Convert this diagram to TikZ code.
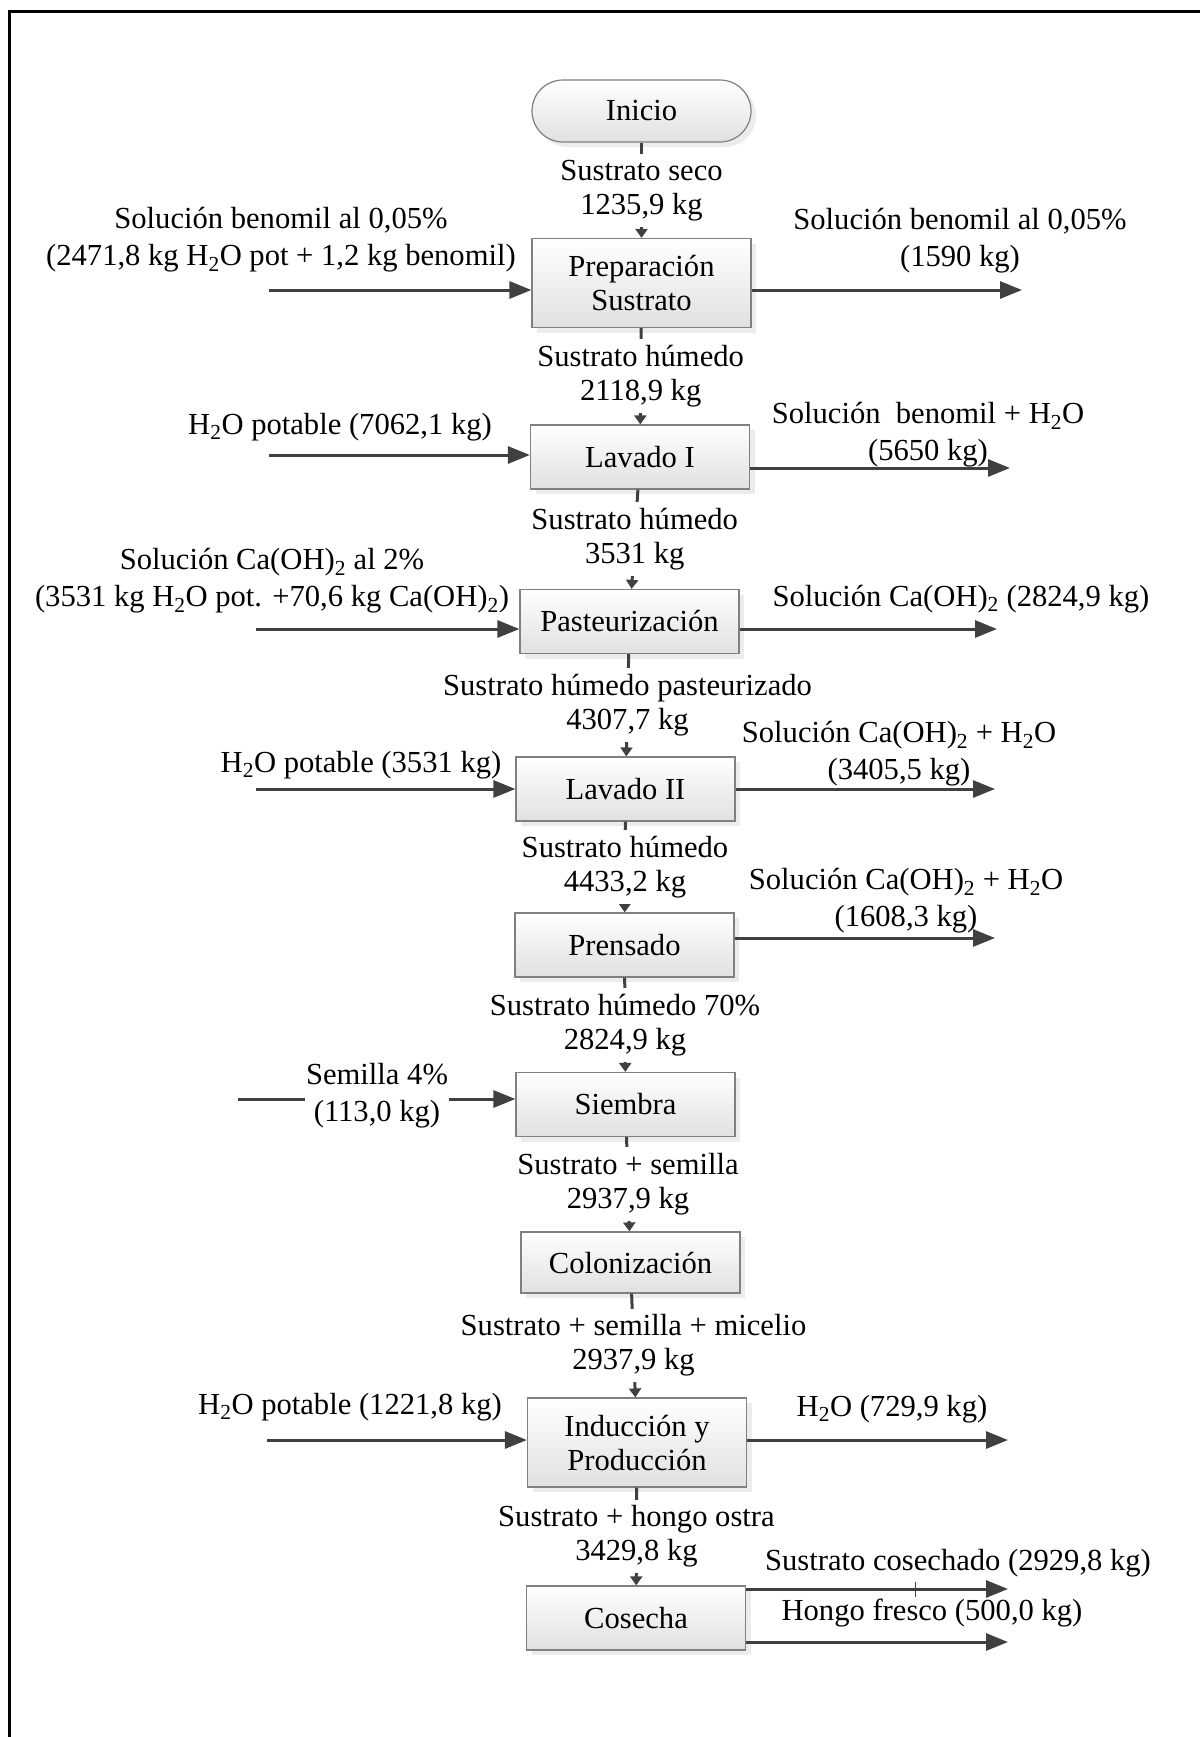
\documentclass[tikz,border=0pt]{standalone}
\usepackage{fontspec}
\setmainfont{Liberation Serif}
\usetikzlibrary{arrows.meta,shadows}
\tikzset{
  every node/.style={font=\fontsize{30.6bp}{37bp}\selectfont},
  proc/.style={draw=black!50,line width=1.2bp,top color=white,bottom color=black!12,
    drop shadow={shadow xshift=5bp,shadow yshift=-5bp,fill=black!15},
    font=\fontsize{30.6bp}{34bp}\selectfont,
    minimum width=219bp,minimum height=64bp,align=center,inner sep=2bp},
  term/.style={proc,rounded corners=31bp,minimum height=62bp},
  lbl/.style={fill=white,align=center,inner xsep=1bp,inner ysep=6bp,
    font=\fontsize{30.6bp}{34bp}\selectfont},
  side/.style={align=center,inner sep=1bp},
  flow/.style={draw=black!75,line width=3bp,-{Triangle[length=22bp,width=17bp]}},
  link/.style={draw=black!75,line width=3bp,-{Triangle[length=9bp,width=12bp]}},
}
\begin{document}
\begin{tikzpicture}[x=1bp,y=-1bp,line join=miter]
\useasboundingbox (0,0) rectangle (1200,1737);
\draw[line width=3bp] (9,1737) -- (9,11) -- (1200,11);
%%
\node (inicio) at (641.5,111) [term] {Inicio};
  \node (prep) at (641.5,283) [proc,minimum height=89bp] {Preparación\\Sustrato};
  \node (lav1) at (640,457) [proc] {Lavado I};
  \node (past) at (629.5,621.5) [proc] {Pasteurización};
  \node (lav2) at (625.5,789) [proc] {Lavado II};
  \node (prens) at (624.5,945) [proc] {Prensado};
  \node (siem) at (625.5,1104.5) [proc] {Siembra};
  \node (colon) at (630.5,1262.5) [proc,minimum height=61bp] {Colonización};
  \node (induc) at (637,1442.5) [proc,minimum height=89bp] {Inducción y\\Producción};
  \node (cosecha) at (636,1618) [proc] {Cosecha};
%% main line
  \draw [link] (inicio) -- node[lbl] {Sustrato seco\\1235,9 kg} (prep);
  \draw [link] (prep) -- node[lbl] {Sustrato húmedo\\2118,9 kg} (lav1);
  \draw [link] (lav1) -- node[lbl] {Sustrato húmedo\\3531 kg} (past);
  \draw [link] (past) -- node[lbl] {Sustrato húmedo pasteurizado\\4307,7 kg} (lav2);
  \draw [link] (lav2) -- node[lbl] {Sustrato húmedo\\4433,2 kg} (prens);
  \draw [link] (prens) -- node[lbl] {Sustrato húmedo 70\%\\2824,9 kg} (siem);
  \draw [link] (siem) -- node[lbl] {Sustrato + semilla\\2937,9 kg} (colon);
  \draw [link] (colon) -- node[lbl] {Sustrato + semilla + micelio\\2937,9 kg} (induc);
  \draw [link] (induc) -- node[lbl] {Sustrato + hongo ostra\\3429,8 kg} (cosecha);
%% inputs
  \coordinate (in1) at (269,290);
  \coordinate (in2) at (269,455);
  \coordinate (in3) at (256,629);
  \coordinate (in4) at (256,789);
  \coordinate (in5) at (238,1099);
  \coordinate (in6) at (267,1440);
  \node (solben) at (281,240) [side] {Solución benomil al 0,05\%\\(2471,8 kg H\textsubscript{2}O pot + 1,2 kg benomil)};
  \node (agua1) at (340,427) [side] {H\textsubscript{2}O potable (7062,1 kg)};
  \node (solcal) at (272,581) [side] {Solución Ca(OH)\textsubscript{2} al 2\%\\(3531 kg H\textsubscript{2}O pot. +70,6 kg Ca(OH)\textsubscript{2})};
  \node (agua2) at (361,765) [side] {H\textsubscript{2}O potable (3531 kg)};
  \node (agua3) at (350,1407) [side] {H\textsubscript{2}O potable (1221,8 kg)};
  \draw [flow] (in1) -- (prep.west |- in1);
  \draw [flow] (in2) -- (lav1.west |- in2);
  \draw [flow] (in3) -- (past.west |- in3);
  \draw [flow] (in4) -- (lav2.west |- in4);
  \draw [flow] (in5) -- (siem.west |- in5);
  \node (semilla) at (377,1096) [lbl,inner ysep=1bp,font=\fontsize{30.6bp}{37bp}\selectfont] {Semilla 4\%\\(113,0 kg)};
  \draw [flow] (in6) -- (induc.west |- in6);
%% outputs
  \coordinate (out1) at (1022,290);
  \coordinate (out2) at (1010,468);
  \coordinate (out3) at (997,629);
  \coordinate (out4) at (995,789);
  \coordinate (out5) at (995,938);
  \coordinate (out6) at (1008,1440);
  \coordinate (out7) at (1008,1589);
  \coordinate (out8) at (1008,1642);
  \node (rsolben) at (960,241) [side] {Solución benomil al 0,05\%\\(1590 kg)};
  \node (rben) at (928,435) [side] {Solución~ benomil + H\textsubscript{2}O\\(5650 kg)};
  \node (rcal) at (961,599) [side] {Solución Ca(OH)\textsubscript{2} (2824,9 kg)};
  \node (rcal2) at (899,754) [side] {Solución Ca(OH)\textsubscript{2} + H\textsubscript{2}O\\(3405,5 kg)};
  \node (rcal3) at (906,901) [side] {Solución Ca(OH)\textsubscript{2} + H\textsubscript{2}O\\(1608,3 kg)};
  \node (ragua) at (892,1409) [side] {H\textsubscript{2}O (729,9 kg)};
  \node (rsust) at (958,1563) [side] {Sustrato cosechado (2929,8 kg)};
  \node (rhongo) at (932,1613) [side] {Hongo fresco (500,0 kg)};
  \draw [flow] (prep.east |- out1) -- (out1);
  \draw [flow] (lav1.east |- out2) -- (out2);
  \draw [flow] (past.east |- out3) -- (out3);
  \draw [flow] (lav2.east |- out4) -- (out4);
  \draw [flow] (prens.east |- out5) -- (out5);
  \draw [flow] (induc.east |- out6) -- (out6);
  \draw [flow] (cosecha.east |- out7) -- (out7);
  \draw [flow] (cosecha.east |- out8) -- (out8);
  \draw [black!75,line width=1bp] (915,1582) -- (915,1597);
%
\end{tikzpicture}
\end{document}
